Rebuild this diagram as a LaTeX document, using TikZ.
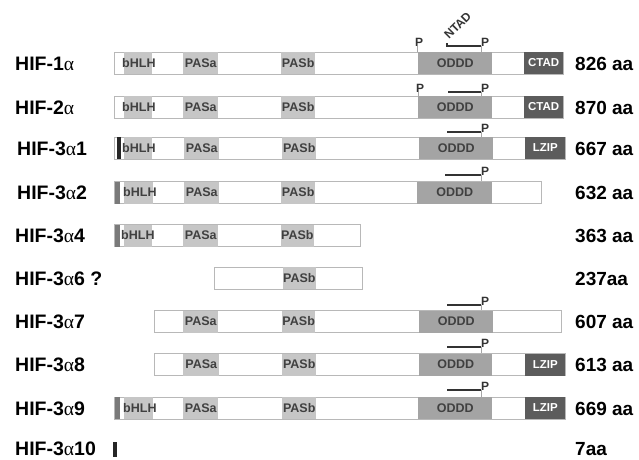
\documentclass[tikz,border=0pt]{standalone}
\usepackage{fontspec}
\setmainfont{Liberation Sans}
\newfontfamily\grk{Liberation Serif}
\definecolor{barline}{HTML}{B8B8B8}
\definecolor{lightdom}{HTML}{C6C6C6}
\definecolor{odddc}{HTML}{A4A4A4}
\definecolor{darkdom}{HTML}{5C5C5C}
\definecolor{dtxt}{HTML}{404040}
\definecolor{markg}{HTML}{7A7A7A}
\definecolor{pcol}{HTML}{333333}
\newcommand\bx[6]{\node[#5, minimum width={#3-#2}] (#1) at (#2,#4) {#6};}
\begin{document}
\begin{tikzpicture}[x=1pt,y=-1pt,
  seg/.style={minimum height=22pt, inner sep=0pt, anchor=west, draw=none},
  barbox/.style={seg, draw=barline, fill=white, line width=0.8pt},
  light/.style={seg, fill=lightdom},
  odd/.style={seg, fill=odddc},
  dark/.style={seg, fill=darkdom, text=white},
  mk/.style={seg, fill=markg},
  blk/.style={seg, fill=black!85},
  dfont/.style={font=\bfseries\fontsize{12.5}{12.5}\selectfont, text=dtxt},
  wfont/.style={font=\bfseries\fontsize{11.5}{12}\selectfont, text=white},
  dlab/.style={dfont, inner sep=0pt, anchor=west},
  lab/.style={font=\bfseries\fontsize{19.5}{19.5}\selectfont, anchor=base west, inner sep=0pt},
  size/.style={font=\bfseries\fontsize{19}{19}\selectfont, anchor=base west, inner sep=0pt},
  pmark/.style={font=\bfseries\fontsize{12}{12}\selectfont, text=pcol, anchor=base west, inner sep=0pt},
  pline/.style={line width=1.1pt, draw=pcol},
  stem/.style={line width=0.5pt, draw=gray!70}
]
\useasboundingbox (0,0) rectangle (639,459);

% ---------- Row 1: HIF-1a (c=63)
\bx{b1}{114}{563}{63}{barbox}{}
\bx{h1}{124}{152}{63}{light}{}
\node[dlab] (ht1) at (122,63) {bHLH};
\bx{pa1}{183}{218}{63}{light,dfont}{PASa}
\bx{pb1}{281}{315}{63}{light,dfont}{PASb}
\bx{o1}{418}{492}{63}{odd,dfont}{ODDD}
\bx{c1}{524}{563}{63}{dark,wfont}{CTAD}
\node[lab] (l1) at (15,70) {HIF-1{\grk\mdseries α}};
\node[size] (s1) at (575,70) {826 aa};
\node[pmark] (pL1) at (415,46) {P};
\node[pmark] (pR1) at (481,46) {P};
\node[pmark, rotate=45, font=\bfseries\fontsize{12}{12}\selectfont] (nt1) at (449,40) {NTAD};
\coordinate (n1a) at (447,43);
\coordinate (n1b) at (447,46);
\draw[pline] (n1a) -- (n1b) -- (pR1.base west);
\draw[stem] (pR1.base west) -- (pR1.base west |- b1.north);
\draw[stem] ([xshift=2pt]pL1.base west) -- ([xshift=2pt]pL1.base west |- b1.north);

% ---------- Row 2: HIF-2a (c=107)
\bx{b2}{114}{563}{107}{barbox}{}
\bx{h2}{124}{152}{107}{light}{}
\node[dlab] (ht2) at (122,107) {bHLH};
\bx{pa2}{183}{218}{107}{light,dfont}{PASa}
\bx{pb2}{281}{315}{107}{light,dfont}{PASb}
\bx{o2}{418}{492}{107}{odd,dfont}{ODDD}
\bx{c2}{524}{563}{107}{dark,wfont}{CTAD}
\node[lab] (l2) at (15,114) {HIF-2{\grk\mdseries α}};
\node[size] (s2) at (575,114) {870 aa};
\node[pmark] (pL2) at (416,92) {P};
\node[pmark] (pR2) at (481,92) {P};
\coordinate (n2) at (448,92);
\draw[pline] (n2) -- (pR2.base west);
\draw[stem] (pR2.base west) -- (pR2.base west |- b2.north);
\draw[stem] ([xshift=2pt]pL2.base west) -- ([xshift=2pt]pL2.base west |- b2.north);

% ---------- Row 3: HIF-3a1 (c=148)
\bx{b3}{114}{565}{148}{barbox}{}
\bx{h3}{124}{152}{148}{light}{}
\bx{k3}{117}{121}{148}{blk}{}
\node[dlab] (ht3) at (122,148) {bHLH};
\bx{pa3}{184}{219}{148}{light,dfont}{PASa}
\bx{pb3}{282}{316}{148}{light,dfont}{PASb}
\bx{o3}{419}{493}{148}{odd,dfont}{ODDD}
\bx{z3}{525}{565}{148}{dark,wfont}{LZIP}
\node[lab] (l3) at (17,155) {HIF-3{\grk\mdseries α}1};
\node[size] (s3) at (575,155) {667 aa};
\node[pmark] (pR3) at (481,132) {P};
\coordinate (n3) at (447,132);
\draw[pline] (n3) -- (pR3.base west);
\draw[stem] (pR3.base west) -- (pR3.base west |- b3.north);

% ---------- Row 4: HIF-3a2 (c=192.5)
\bx{b4}{114}{541}{192.5}{barbox}{}
\bx{h4}{124}{153}{192.5}{light}{}
\bx{k4}{115}{120}{192.5}{mk}{}
\node[dlab] (ht4) at (123,192.5) {bHLH};
\bx{pa4}{184}{219}{192.5}{light,dfont}{PASa}
\bx{pb4}{281}{315}{192.5}{light,dfont}{PASb}
\bx{o4}{417}{492}{192.5}{odd,dfont}{ODDD}
\node[lab] (l4) at (17,199.5) {HIF-3{\grk\mdseries α}2};
\node[size] (s4) at (575,199.5) {632 aa};
\node[pmark] (pR4) at (481,175) {P};
\coordinate (n4) at (445,175);
\draw[pline] (n4) -- (pR4.base west);
\draw[stem] (pR4.base west) -- (pR4.base west |- b4.north);

% ---------- Row 5: HIF-3a4 (c=235.5)
\bx{b5}{114}{360}{235.5}{barbox}{}
\bx{h5}{124}{152}{235.5}{light}{}
\bx{k5}{115}{120}{235.5}{mk}{}
\node[dlab] (ht5) at (121,235.5) {bHLH};
\bx{pa5}{183}{218}{235.5}{light,dfont}{PASa}
\bx{pb5}{281}{313}{235.5}{light,dfont}{PASb}
\node[lab] (l5) at (15,242.5) {HIF-3{\grk\mdseries α}4};
\node[size] (s5) at (575,242.5) {363 aa};

% ---------- Row 6: HIF-3a6 ? (c=278)
\bx{b6}{214}{362}{278}{barbox}{}
\bx{pb6}{283}{313}{278}{light,dfont}{PASb}
\node[lab] (l6) at (15,285) {HIF-3{\grk\mdseries α}6 ?};
\node[size] (s6) at (575,285) {237aa};

% ---------- Row 7: HIF-3a7 (c=321.5)
\bx{b7}{154}{561}{321.5}{barbox}{}
\bx{pa7}{183}{218}{321.5}{light,dfont}{PASa}
\bx{pb7}{282}{315}{321.5}{light,dfont}{PASb}
\bx{o7}{419}{493}{321.5}{odd,dfont}{ODDD}
\node[lab] (l7) at (15,328.5) {HIF-3{\grk\mdseries α}7};
\node[size] (s7) at (575,328.5) {607 aa};
\node[pmark] (pR7) at (481,305) {P};
\coordinate (n7) at (447,305);
\draw[pline] (n7) -- (pR7.base west);
\draw[stem] (pR7.base west) -- (pR7.base west |- b7.north);

% ---------- Row 8: HIF-3a8 (c=364.5)
\bx{b8}{154}{565}{364.5}{barbox}{}
\bx{pa8}{183}{219}{364.5}{light,dfont}{PASa}
\bx{pb8}{282}{316}{364.5}{light,dfont}{PASb}
\bx{o8}{419}{492}{364.5}{odd,dfont}{ODDD}
\bx{z8}{525}{565}{364.5}{dark,wfont}{LZIP}
\node[lab] (l8) at (15,371.5) {HIF-3{\grk\mdseries α}8};
\node[size] (s8) at (575,371.5) {613 aa};
\node[pmark] (pR8) at (481,347) {P};
\coordinate (n8) at (447,347);
\draw[pline] (n8) -- (pR8.base west);
\draw[stem] (pR8.base west) -- (pR8.base west |- b8.north);

% ---------- Row 9: HIF-3a9 (c=408)
\bx{b9}{114}{565}{408}{barbox}{}
\bx{h9}{124}{153}{408}{light}{}
\bx{k9}{115}{120}{408}{mk}{}
\node[dlab] (ht9) at (123,408) {bHLH};
\bx{pa9}{183}{218}{408}{light,dfont}{PASa}
\bx{pb9}{282}{316}{408}{light,dfont}{PASb}
\bx{o9}{418}{492}{408}{odd,dfont}{ODDD}
\bx{z9}{525}{565}{408}{dark,wfont}{LZIP}
\node[lab] (l9) at (15,415) {HIF-3{\grk\mdseries α}9};
\node[size] (s9) at (575,415) {669 aa};
\node[pmark] (pR9) at (481,390) {P};
\coordinate (n9) at (447,390);
\draw[pline] (n9) -- (pR9.base west);
\draw[stem] (pR9.base west) -- (pR9.base west |- b9.north);

% ---------- Row 10: HIF-3a10 (c=449.5)
\node[seg, fill=black!85, minimum width=4pt, minimum height=15pt] (k10) at (113,449.5) {};
\node[lab] (l10) at (15,455) {HIF-3{\grk\mdseries α}10};
\node[size] (s10) at (575,455) {7aa};
\end{tikzpicture}
\end{document}
